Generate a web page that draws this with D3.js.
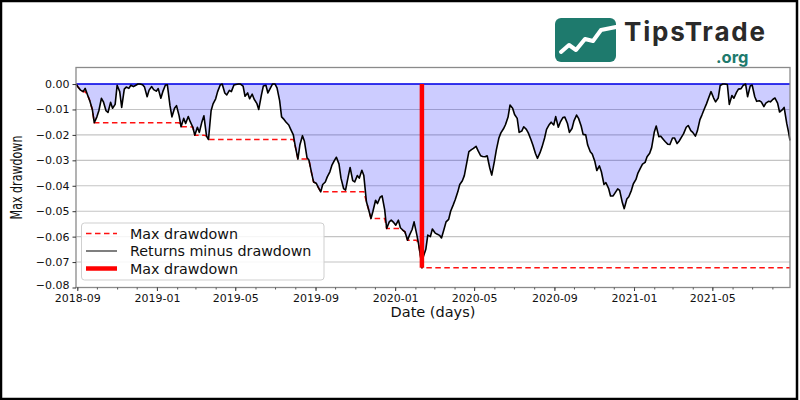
<!DOCTYPE html>
<html><head><meta charset="utf-8">
<script src="https://cdn.jsdelivr.net/npm/d3@7"></script>
<style>html,body{margin:0;padding:0;background:#fff;}svg{display:block;font-family:"DejaVu Sans",sans-serif;}</style>
</head><body><svg id="c" width="800" height="400"></svg>
<script>
const dateStr = [
"2018-08-30","2018-09-03","2018-09-06","2018-09-10","2018-09-13","2018-09-17","2018-09-20","2018-09-24","2018-09-27",
"2018-10-01","2018-10-04","2018-10-08","2018-10-11","2018-10-15","2018-10-18","2018-10-22","2018-10-25","2018-10-29",
"2018-11-01","2018-11-05","2018-11-08","2018-11-12","2018-11-15","2018-11-19","2018-11-22","2018-11-26","2018-11-29",
"2018-12-03","2018-12-06","2018-12-10","2018-12-13","2018-12-17","2018-12-20","2018-12-24","2018-12-27","2018-12-31",
"2019-01-03","2019-01-07","2019-01-10","2019-01-14","2019-01-17","2019-01-21","2019-01-24","2019-01-28","2019-01-31",
"2019-02-04","2019-02-07","2019-02-11","2019-02-14","2019-02-18","2019-02-21","2019-02-25","2019-02-28",
"2019-03-04","2019-03-07","2019-03-11","2019-03-14","2019-03-18","2019-03-21","2019-03-25","2019-03-28",
"2019-04-01","2019-04-04","2019-04-08","2019-04-11","2019-04-15","2019-04-18","2019-04-22","2019-04-25","2019-04-29",
"2019-05-02","2019-05-06","2019-05-09","2019-05-13","2019-05-16","2019-05-20","2019-05-23","2019-05-27","2019-05-30",
"2019-06-03","2019-06-06","2019-06-10","2019-06-13","2019-06-17","2019-06-20","2019-06-24","2019-06-27",
"2019-07-01","2019-07-04","2019-07-08","2019-07-11","2019-07-15","2019-07-18","2019-07-22","2019-07-25","2019-07-29",
"2019-08-01","2019-08-05","2019-08-08","2019-08-12","2019-08-15","2019-08-19","2019-08-22","2019-08-26","2019-08-29",
"2019-09-02","2019-09-05","2019-09-09","2019-09-12","2019-09-16","2019-09-19","2019-09-23","2019-09-26","2019-09-30",
"2019-10-03","2019-10-07","2019-10-10","2019-10-14","2019-10-17","2019-10-21","2019-10-24","2019-10-28","2019-10-31",
"2019-11-04","2019-11-07","2019-11-11","2019-11-14","2019-11-18","2019-11-21","2019-11-25","2019-11-28",
"2019-12-02","2019-12-05","2019-12-09","2019-12-12","2019-12-16","2019-12-19","2019-12-23","2019-12-26","2019-12-30",
"2020-01-02","2020-01-06","2020-01-09","2020-01-13","2020-01-16","2020-01-20","2020-01-23","2020-01-27","2020-01-30",
"2020-02-03","2020-02-06","2020-02-09","2020-02-11","2020-02-13","2020-02-17","2020-02-20","2020-02-24","2020-02-27",
"2020-03-02","2020-03-05","2020-03-09","2020-03-12","2020-03-16","2020-03-19","2020-03-23","2020-03-26","2020-03-30",
"2020-04-02","2020-04-06","2020-04-09","2020-04-13","2020-04-16","2020-04-20","2020-04-23","2020-04-27","2020-04-30",
"2020-05-04","2020-05-07","2020-05-11","2020-05-14","2020-05-18","2020-05-21","2020-05-25","2020-05-28",
"2020-06-01","2020-06-04","2020-06-08","2020-06-11","2020-06-15","2020-06-18","2020-06-22","2020-06-25","2020-06-29",
"2020-07-02","2020-07-06","2020-07-09","2020-07-13","2020-07-16","2020-07-20","2020-07-23","2020-07-27","2020-07-30",
"2020-08-03","2020-08-06","2020-08-10","2020-08-13","2020-08-17","2020-08-20","2020-08-24","2020-08-27","2020-08-31",
"2020-09-03","2020-09-07","2020-09-10","2020-09-14","2020-09-17","2020-09-21","2020-09-24","2020-09-28",
"2020-10-01","2020-10-05","2020-10-08","2020-10-12","2020-10-15","2020-10-19","2020-10-22","2020-10-26","2020-10-29",
"2020-11-02","2020-11-05","2020-11-09","2020-11-12","2020-11-16","2020-11-19","2020-11-23","2020-11-26","2020-11-30",
"2020-12-03","2020-12-07","2020-12-10","2020-12-14","2020-12-17","2020-12-21","2020-12-24","2020-12-28","2020-12-31",
"2021-01-04","2021-01-07","2021-01-11","2021-01-14","2021-01-18","2021-01-21","2021-01-25","2021-01-28",
"2021-02-01","2021-02-04","2021-02-08","2021-02-11","2021-02-15","2021-02-18","2021-02-22","2021-02-25",
"2021-03-01","2021-03-04","2021-03-08","2021-03-11","2021-03-15","2021-03-18","2021-03-22","2021-03-25","2021-03-29",
"2021-04-01","2021-04-05","2021-04-08","2021-04-12","2021-04-15","2021-04-19","2021-04-22","2021-04-26","2021-04-29",
"2021-05-03","2021-05-06","2021-05-10","2021-05-13","2021-05-17","2021-05-20","2021-05-24","2021-05-27","2021-05-31",
"2021-06-03","2021-06-07","2021-06-10","2021-06-14","2021-06-17","2021-06-21","2021-06-24","2021-06-28",
"2021-07-01","2021-07-05","2021-07-08","2021-07-12","2021-07-15","2021-07-19","2021-07-22","2021-07-26","2021-07-29",
"2021-08-02","2021-08-05","2021-08-09","2021-08-12","2021-08-16","2021-08-19","2021-08-23","2021-08-26","2021-08-28"
];
const drawdown = [
0,-0.0015,-0.0024,-0.0030,-0.0017,-0.0045,-0.0065,-0.0100,-0.0152,
-0.0129,-0.0105,-0.0056,-0.0070,-0.0105,-0.0112,-0.0072,-0.0095,-0.0080,
-0.0005,-0.0030,-0.0092,-0.0020,-0.0012,-0.0017,-0.0005,-0.0010,-0.0006,
0,0,-0.0003,-0.0012,-0.0050,-0.0024,-0.0010,-0.0022,-0.0028,
-0.0018,-0.0056,-0.0030,-0.0004,-0.0003,-0.0085,-0.0129,-0.0095,-0.0085,
-0.0125,-0.0168,-0.0135,-0.0155,-0.0128,-0.0148,-0.0170,-0.0201,
-0.0170,-0.0190,-0.0148,-0.0125,-0.0205,-0.0218,-0.0105,-0.0078,
-0.0058,-0.0030,-0.0004,0,-0.0035,-0.0043,-0.0025,-0.0030,-0.0004,
-0.0002,0,0,-0.0008,-0.0048,-0.0035,-0.0058,-0.0040,-0.0060,
-0.0076,-0.0100,-0.0045,-0.0008,-0.0005,-0.0035,-0.0015,0,
0,-0.0015,-0.0065,-0.0129,-0.0140,-0.0150,-0.0161,-0.0178,-0.0200,
-0.0245,-0.0295,-0.0240,-0.0203,-0.0225,-0.0290,-0.0300,-0.0350,-0.0385,
-0.0390,-0.0405,-0.0424,-0.0395,-0.0385,-0.0365,-0.0345,-0.0320,-0.0300,
-0.0288,-0.0315,-0.0370,-0.0411,-0.0417,-0.0365,-0.0328,-0.0380,-0.0385,
-0.0360,-0.0370,-0.0339,-0.0360,-0.0463,-0.0490,-0.0529,-0.0500,
-0.0457,-0.0470,-0.0445,-0.0440,-0.0495,-0.0568,-0.0542,-0.0535,-0.0545,
-0.0555,-0.0535,-0.0565,-0.0575,-0.0581,-0.0614,-0.0594,-0.0572,-0.0542,
-0.0590,-0.0630,-0.0680,-0.0722,-0.0680,-0.0650,-0.0594,-0.0600,-0.0570,
-0.0585,-0.0590,-0.0595,-0.0605,-0.0570,-0.0542,-0.0532,-0.0500,-0.0475,
-0.0455,-0.0424,-0.0395,-0.0380,-0.0360,-0.0306,-0.0266,-0.0258,-0.0253,
-0.0245,-0.0262,-0.0282,-0.0285,-0.0286,-0.0282,-0.0330,-0.0358,
-0.0305,-0.0260,-0.0212,-0.0192,-0.0176,-0.0160,-0.0130,-0.0083,-0.0095,
-0.0120,-0.0135,-0.0190,-0.0185,-0.0168,-0.0178,-0.0192,-0.0218,-0.0240,
-0.0273,-0.0292,-0.0270,-0.0248,-0.0212,-0.0178,-0.0160,-0.0150,-0.0161,
-0.0128,-0.0170,-0.0150,-0.0132,-0.0130,-0.0155,-0.0190,-0.0175,
-0.0145,-0.0122,-0.0135,-0.0165,-0.0198,-0.0200,-0.0240,-0.0266,-0.0275,
-0.0305,-0.0340,-0.0322,-0.0345,-0.0395,-0.0388,-0.0410,-0.0440,-0.0440,
-0.0428,-0.0412,-0.0418,-0.0465,-0.0490,-0.0452,-0.0443,-0.0418,-0.0392,
-0.0375,-0.0350,-0.0330,-0.0315,-0.0308,-0.0286,-0.0272,-0.0250,
-0.0190,-0.0165,-0.0207,-0.0205,-0.0218,-0.0227,-0.0237,-0.0238,
-0.0212,-0.0212,-0.0234,-0.0225,-0.0208,-0.0195,-0.0170,-0.0163,-0.0183,
-0.0190,-0.0205,-0.0185,-0.0140,-0.0122,-0.0096,-0.0078,-0.0050,-0.0030,
-0.0055,-0.0070,-0.0055,-0.0006,0,0,-0.0002,-0.0080,-0.0045,
-0.0056,-0.0033,-0.0020,-0.0018,-0.0006,0,-0.0050,-0.0008,
-0.0004,-0.0050,-0.0068,-0.0066,-0.0070,-0.0089,-0.0075,-0.0068,-0.0070,
-0.0060,-0.0055,-0.0075,-0.0110,-0.0102,-0.0092,-0.0155,-0.0192,-0.0222
];
const yTicks = [0,-0.01,-0.02,-0.03,-0.04,-0.05,-0.06,-0.07,-0.08];
const yTop = 0.0065;
const legendLabels = ["Max drawdown","Returns minus drawdown","Max drawdown"];
const xTitle = "Date (days)";
const yTitle = "Max drawdown";
const logoMain = "TipsTrade", logoSub = ".org";

const svg = d3.select("#c");
const parse = d3.utcParse("%Y-%m-%d");
const n = Math.min(dateStr.length, drawdown.length);
const data = dateStr.slice(0,n).map((d,i)=>({date:parse(d), v:drawdown[i]}));
let run = 0; data.forEach(d=>{ run = Math.min(run,d.v); d.mdd = run; });
const minPt = data.reduce((a,b)=> b.v < a.v ? b : a);

const L=76, R=790, T=67.5, B=287.5;
const x = d3.scaleUtc().domain(d3.extent(data,d=>d.date)).range([L,R]);
const y = d3.scaleLinear().domain([d3.min(yTicks), yTop]).range([B,T]);

svg.append("rect").attr("width",800).attr("height",400).attr("fill","#fff");

// grid
svg.append("g").selectAll("line").data(yTicks).join("line")
  .attr("x1",L).attr("x2",R).attr("y1",d=>y(d)).attr("y2",d=>y(d))
  .attr("stroke","#c4c4c4").attr("stroke-width",1.1);

// fill
svg.append("path").datum(data)
  .attr("d", d3.area().x(d=>x(d.date)).y0(y(0)).y1(d=>y(d.v)))
  .attr("fill","rgba(0,0,255,0.2)");
// zero line
svg.append("path").datum(data)
  .attr("d", d3.line().x(d=>x(d.date)).y(()=>y(0)))
  .attr("stroke","#0000ee").attr("stroke-width",1.4).attr("fill","none");
// running max drawdown dashed
svg.append("path").datum(data)
  .attr("d", d3.line().x(d=>x(d.date)).y(d=>y(d.mdd)))
  .attr("stroke","#ff1010").attr("stroke-width",1.5).attr("stroke-dasharray","5.5,3.5").attr("fill","none");
// series
svg.append("path").datum(data)
  .attr("d", d3.line().x(d=>x(d.date)).y(d=>y(d.v)))
  .attr("stroke","#000").attr("stroke-width",1.6).attr("stroke-linejoin","round").attr("fill","none");
// vertical max drawdown
svg.append("line").attr("x1",x(minPt.date)).attr("x2",x(minPt.date))
  .attr("y1",y(0)).attr("y2",y(minPt.v))
  .attr("stroke","#ff0000").attr("stroke-width",4.5);

// spines
svg.append("rect").attr("x",L).attr("y",T).attr("width",R-L).attr("height",B-T)
  .attr("fill","none").attr("stroke","#8a8a8a").attr("stroke-width",1.3);

// axes
const ya = svg.append("g").attr("transform",`translate(${L},0)`)
  .call(d3.axisLeft(y).tickValues(yTicks).tickFormat(d3.format(".2f")).tickSize(3.5).tickPadding(3));
ya.select(".domain").remove();
ya.selectAll("text").attr("font-size",11).attr("font-family","DejaVu Sans").attr("fill","#111");
ya.selectAll("text").filter(d=>d===d3.min(yTicks)).attr("dy","0.05em");
ya.selectAll("line").attr("stroke","#333");

const xa = svg.append("g").attr("transform",`translate(0,${B})`)
  .call(d3.axisBottom(x).ticks(d3.utcMonth.every(4)).tickFormat(d3.utcFormat("%Y-%m")).tickSize(3.5).tickPadding(3));
xa.select(".domain").remove();
xa.selectAll("text").attr("font-size",11).attr("font-family","DejaVu Sans").attr("fill","#111");
xa.selectAll("line").attr("stroke","#333");
const xm = svg.append("g").attr("transform",`translate(0,${B})`)
  .call(d3.axisBottom(x).ticks(d3.utcMonth.every(1)).tickFormat("").tickSize(2));
xm.select(".domain").remove();
xm.selectAll("line").attr("stroke","#555");

svg.append("text").attr("x",(L+R)/2).attr("y",317).attr("text-anchor","middle")
  .attr("font-size",14.5).attr("fill","#111").text(xTitle);
svg.append("text").attr("transform",`translate(22,${(T+B)/2}) rotate(-90) scale(0.74,1)`)
  .attr("text-anchor","middle").attr("font-size",15).attr("fill","#111").text(yTitle);

// legend
const lg = svg.append("g");
lg.append("rect").attr("x",81.5).attr("y",223).attr("width",242.5).attr("height",57).attr("rx",3)
  .attr("fill","rgba(255,255,255,0.85)").attr("stroke","#cfcfcf");
const rows = [233.5, 251, 268.5];
const styles = [
  {c:"#ff1010", w:1.5, dash:"5.5,3.5"},
  {c:"#3a3a3a", w:1.3, dash:null},
  {c:"#ff0000", w:4.5, dash:null}
];
legendLabels.forEach((t,i)=>{
  lg.append("line").attr("x1",86).attr("x2",117).attr("y1",rows[i]).attr("y2",rows[i])
    .attr("stroke",styles[i].c).attr("stroke-width",styles[i].w).attr("stroke-dasharray",styles[i].dash);
  lg.append("text").attr("x",130).attr("y",rows[i]).attr("dy","0.35em")
    .attr("font-size",14.3).attr("fill","#111").text(t);
});

// logo
const logo = svg.append("g");
logo.append("rect").attr("x",555).attr("y",18).attr("width",61).attr("height",44).attr("rx",6).attr("fill","#1e7a6d");
logo.append("polyline").attr("points","561,52 569,45 576,50 585,39 593,41 601,30 616,27")
  .attr("fill","none").attr("stroke","#fff").attr("stroke-width",4).attr("stroke-linejoin","round").attr("stroke-linecap","round");
logo.append("text").attr("x",624).attr("y",41).attr("font-family","Inter, 'Open Sans', sans-serif").attr("font-weight",700)
  .attr("font-size",26).attr("fill","#2a2a2a").attr("textLength",141).text(logoMain);
logo.append("text").attr("x",716).attr("y",63).attr("font-family","Inter, 'Open Sans', sans-serif").attr("font-weight",700)
  .attr("font-size",16.5).attr("fill","#1e7a6d").text(logoSub);

// image border
svg.append("rect").attr("x",1).attr("y",1).attr("width",796).attr("height",398)
  .attr("fill","none").attr("stroke","#000").attr("stroke-width",2.5);
</script></body></html>
